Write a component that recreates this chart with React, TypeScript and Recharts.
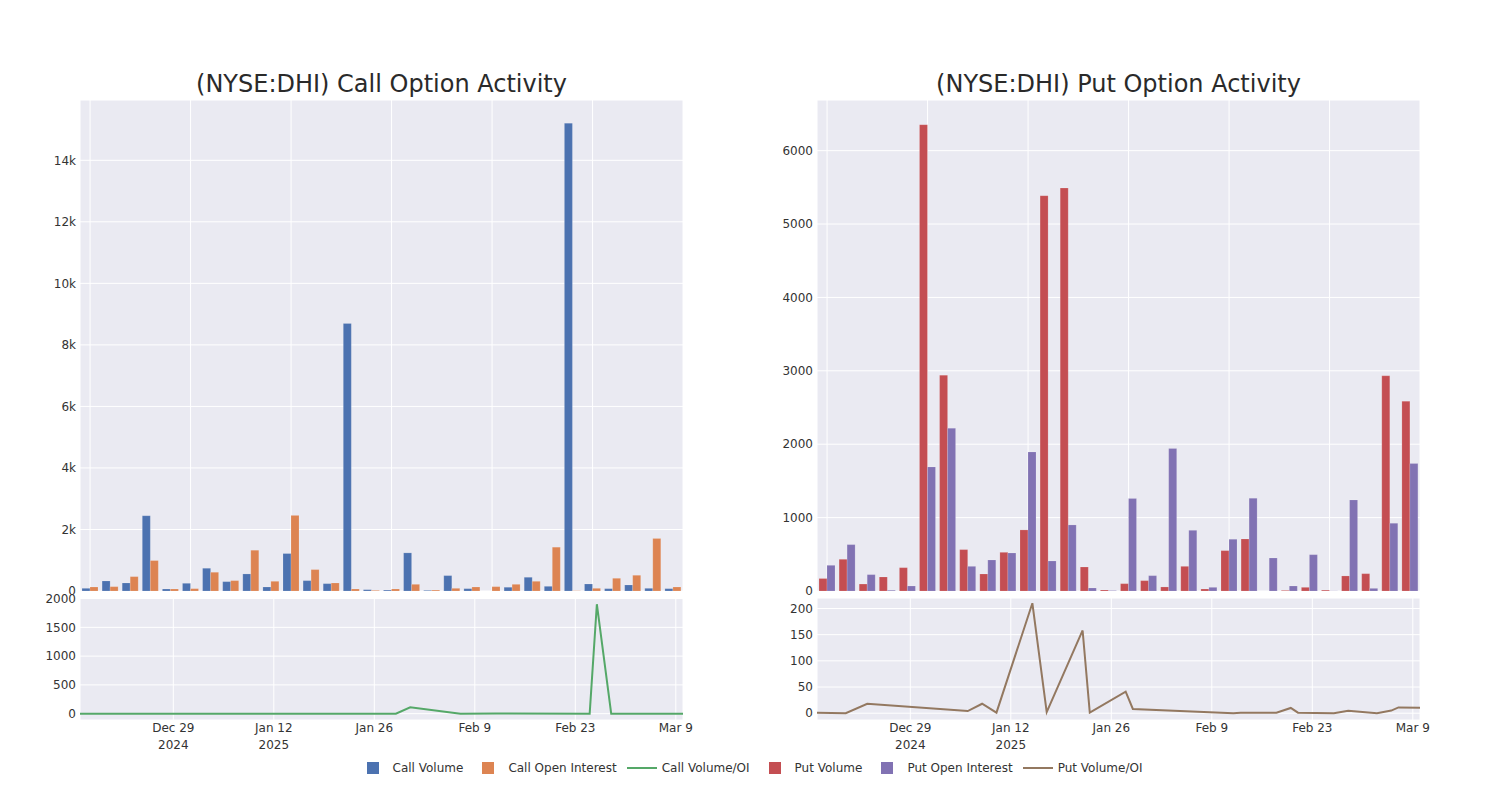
import React from 'react';
import { BarChart, Bar, LineChart, Line, XAxis, YAxis, CartesianGrid } from 'recharts';

// ---------- data ----------
const barDates = [
  '2024-12-16', '2024-12-18', '2024-12-20', '2024-12-23', '2024-12-27', '2024-12-30',
  '2025-01-06', '2025-01-08', '2025-01-10', '2025-01-15', '2025-01-17', '2025-01-22',
  '2025-01-23', '2025-01-28', '2025-01-29', '2025-01-31', '2025-02-07', '2025-02-10',
  '2025-02-12', '2025-02-13', '2025-02-18', '2025-02-20', '2025-02-21', '2025-02-25',
  '2025-02-26', '2025-02-28', '2025-03-04', '2025-03-06', '2025-03-07', '2025-03-10',
];
const callVolume = [
  87, 326, 261, 2446, 65, 250, 739, 304, 554, 130, 1217, 337, 239, 8696, 43,
  30, 1239, 20, 500, 76, 0, 120, 446, 152, 15207, 228, 76, 196, 87, 76,
];
const callOpenInterest = [
  130, 141, 467, 989, 65, 76, 609, 337, 1326, 315, 2457, 696, 261, 65, 20,
  65, 217, 30, 87, 130, 141, 217, 315, 1424, 8, 87, 413, 511, 1707, 130,
];
const putVolume = [
  170, 432, 95, 191, 318, 6354, 2941, 564, 232, 527, 832, 5386, 5490, 327, 14,
  100, 141, 55, 336, 27, 550, 709, 0, 8, 50, 12, 205, 236, 2932, 2586,
];
const putOpenInterest = [
  350, 632, 223, 10, 68, 1691, 2218, 336, 423, 518, 1895, 409, 900, 41, 6,
  1259, 209, 1941, 827, 50, 705, 1264, 450, 68, 495, 2, 1241, 36, 923, 1736,
];

const callRatioDates = [
  '2024-12-16', '2025-01-29', '2025-01-31', '2025-02-07', '2025-02-12', '2025-02-25',
  '2025-02-26', '2025-02-28', '2025-03-10',
];
const callRatioValues = [0, 0, 110, 0, 4, 0, 1902, 0, 0];

const putRatioDates = [
  '2024-12-16', '2024-12-20', '2024-12-23', '2025-01-06', '2025-01-08', '2025-01-10',
  '2025-01-15', '2025-01-17', '2025-01-22', '2025-01-23', '2025-01-28', '2025-01-29',
  '2025-02-12', '2025-02-13', '2025-02-18', '2025-02-20', '2025-02-21', '2025-02-26',
  '2025-02-28', '2025-03-04', '2025-03-06', '2025-03-07', '2025-03-10',
];
const putRatioValues = [1, 0, 18, 4, 18, 1, 210, 2, 158, 1, 41, 8, 0, 1, 1, 10, 1, 0, 4.5, 0, 5, 11, 10.5];

const lineTickDates = ['2024-12-29', '2025-01-12', '2025-01-26', '2025-02-09', '2025-02-23', '2025-03-09'];
const lineTickLabels = [['Dec 29', '2024'], ['Jan 12', '2025'], ['Jan 26'], ['Feb 9'], ['Feb 23'], ['Mar 9']];
const lineRange = ['2024-12-16', '2025-03-10'];

const callBarTicks = [0, 2000, 4000, 6000, 8000, 10000, 12000, 14000];
const putBarTicks = [0, 1000, 2000, 3000, 4000, 5000, 6000];
const callRatioTicks = [0, 500, 1000, 1500, 2000];
const putRatioTicks = [0, 50, 100, 150, 200];

const legendItems = [
  { name: 'Call Volume', kind: 'bar', color: '#4C72B0' },
  { name: 'Call Open Interest', kind: 'bar', color: '#DD8452' },
  { name: 'Call Volume/OI', kind: 'line', color: '#55A868' },
  { name: 'Put Volume', kind: 'bar', color: '#C44E52' },
  { name: 'Put Open Interest', kind: 'bar', color: '#8172B3' },
  { name: 'Put Volume/OI', kind: 'line', color: '#937860' },
];

// ---------- derived tables ----------
const ts = (d: string) => Date.parse(d + 'T00:00:00Z');
const callBars = barDates.map((d, i) => ({ pos: i, date: d, vol: callVolume[i], oi: callOpenInterest[i] }));
const putBars = barDates.map((d, i) => ({ pos: i, date: d, vol: putVolume[i], oi: putOpenInterest[i] }));
const callLine = callRatioDates.map((d, i) => ({ t: ts(d), v: callRatioValues[i] }));
const putLine = putRatioDates.map((d, i) => ({ t: ts(d), v: putRatioValues[i] }));
const barGridPositions = barDates.map((_, i) => i).filter((i) => i % 5 === 0);
const barDomain = [-0.5, barDates.length - 0.5];
const tickTimes = lineTickDates.map(ts);
const xDomain = lineRange.map(ts);

const BG = '#EAEAF2';
const TXT = '#333333';
const tickStyle = { fontSize: 12, fill: TXT };

const DateTick = (props: any) => {
  const { x, y, payload } = props;
  const idx = tickTimes.indexOf(payload.value);
  const lines = idx >= 0 ? lineTickLabels[idx] : [];
  return (
    <text x={x} y={y} textAnchor="middle" fontSize={12} fill={TXT}>
      {lines.map((l, i) => (
        <tspan key={i} x={x} dy={i === 0 ? 12 : 17}>{l}</tspan>
      ))}
    </text>
  );
};

const EmptyTick = () => <g />;

const kFmt = (v: number) => (v === 0 ? '0' : `${v / 1000}k`);

function BarPanel({ data, ticks, domain, c1, c2, fmt }: any) {
  return (
    <BarChart width={693} height={600} data={data} margin={{ top: 100, right: 10, bottom: 8, left: 20 }}
      barGap={0}>
      <CartesianGrid stroke="#ffffff" strokeWidth={1} fill={BG} fillOpacity={1} />
      <XAxis dataKey="pos" type="number" domain={barDomain} ticks={barGridPositions} interval={0}
        tick={<EmptyTick />} axisLine={false} tickLine={false} tickSize={0} height={1} allowDataOverflow />
      <YAxis width={60} domain={domain} ticks={ticks} tickFormatter={fmt} tick={tickStyle}
        axisLine={false} tickLine={false} tickSize={0} tickMargin={4} allowDataOverflow />
      <Bar dataKey="vol" barSize={8} fill={c1} stroke="rgba(255,255,255,0.3)" strokeWidth={0.5} isAnimationActive={false} />
      <Bar dataKey="oi" barSize={8} fill={c2} stroke="rgba(255,255,255,0.3)" strokeWidth={0.5} isAnimationActive={false} />
    </BarChart>
  );
}

function LinePanel({ data, ticks, domain, color }: any) {
  return (
    <LineChart width={693} height={172} data={data} margin={{ top: 8, right: 10, bottom: 0, left: 20 }}>
      <CartesianGrid stroke="#ffffff" strokeWidth={1} fill={BG} fillOpacity={1} />
      <XAxis dataKey="t" type="number" domain={xDomain} ticks={tickTimes} interval={0} tick={<DateTick />}
        axisLine={false} tickLine={false} tickSize={0} tickMargin={0} height={42} allowDataOverflow />
      <YAxis width={60} domain={domain} ticks={ticks} tick={tickStyle}
        axisLine={false} tickLine={false} tickSize={0} tickMargin={4} allowDataOverflow />
      <Line dataKey="v" stroke={color} strokeWidth={2} dot={false} isAnimationActive={false} />
    </LineChart>
  );
}

const titleStyle: React.CSSProperties = {
  position: 'absolute', top: 70, width: 603, textAlign: 'center', fontSize: 24,
  lineHeight: '28px', color: '#2a2a2a',
};

export default function App() {
  return (
    <div style={{ position: 'absolute', left: 0, top: 0, width: 1500, height: 800, background: '#fff',
      fontFamily: '"DejaVu Sans", sans-serif', overflow: 'hidden' }}>
      <div style={{ ...titleStyle, left: 80 }}>(NYSE:DHI) Call Option Activity</div>
      <div style={{ ...titleStyle, left: 817 }}>(NYSE:DHI) Put Option Activity</div>

      <div style={{ position: 'absolute', left: 0, top: 0 }}>
        <BarPanel data={callBars} ticks={callBarTicks} domain={[0, 15960]} c1="#4C72B0" c2="#DD8452" fmt={kFmt} />
      </div>
      <div style={{ position: 'absolute', left: 737, top: 0 }}>
        <BarPanel data={putBars} ticks={putBarTicks} domain={[0, 6690]} c1="#C44E52" c2="#8172B3" fmt={(v: number) => `${v}`} />
      </div>
      <div style={{ position: 'absolute', left: 0, top: 590 }}>
        <LinePanel data={callLine} ticks={callRatioTicks} domain={[-110, 2010]} color="#55A868" />
      </div>
      <div style={{ position: 'absolute', left: 737, top: 590 }}>
        <LinePanel data={putLine} ticks={putRatioTicks} domain={[-13, 220]} color="#937860" />
      </div>

      <div style={{ position: 'absolute', left: 0, top: 758, width: 1500, height: 20, display: 'flex',
        justifyContent: 'center', alignItems: 'center', fontSize: 12, color: TXT }}>
        {legendItems.map((it) => (
          <div key={it.name} style={{ display: 'flex', alignItems: 'center', marginRight: 5 }}>
            <svg width={40} height={20}>
              {it.kind === 'bar'
                ? <rect x={14} y={4} width={12} height={12} fill={it.color} />
                : <line x1={5} y1={10} x2={35} y2={10} stroke={it.color} strokeWidth={2} />}
            </svg>
            <span style={{ whiteSpace: 'nowrap' }}>{it.name}</span>
          </div>
        ))}
      </div>
    </div>
  );
}
